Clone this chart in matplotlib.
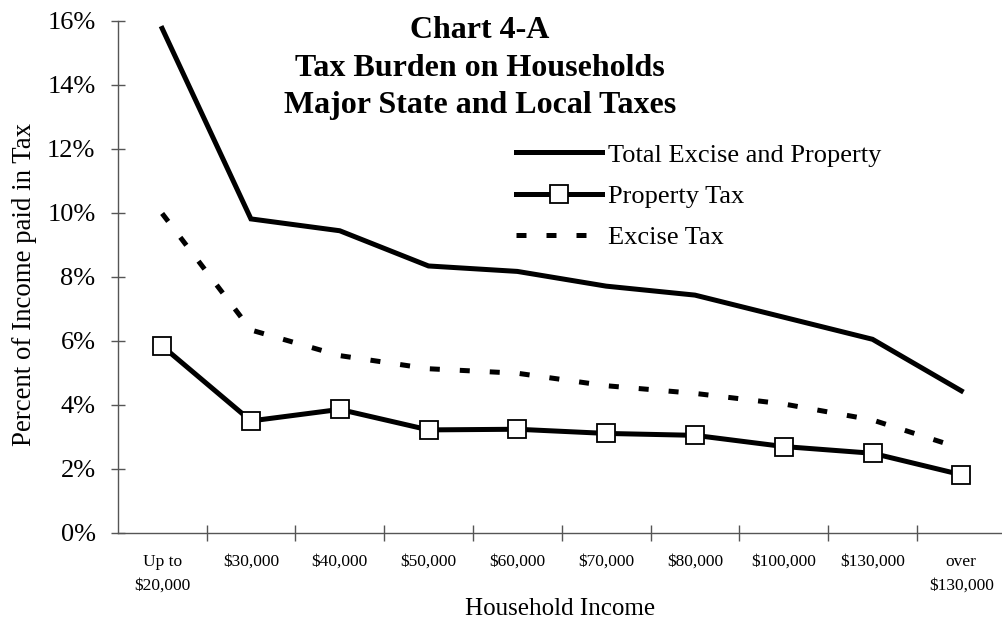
import matplotlib.pyplot as plt
import numpy as np

plt.rcParams['font.family'] = ['Liberation Serif', 'DejaVu Serif']

# income brackets and tax shares (% of income)
brackets = ['Up to\n$20,000', '$30,000', '$40,000', '$50,000', '$60,000',
            '$70,000', '$80,000', '$100,000', '$130,000', 'over\n$130,000']
total = [15.76, 9.81, 9.44, 8.34, 8.17, 7.71, 7.43, 6.74, 6.05, 4.44]
property_tax = [5.84, 3.50, 3.86, 3.22, 3.24, 3.11, 3.05, 2.70, 2.49, 1.82]
excise = [9.98, 6.34, 5.54, 5.13, 4.99, 4.60, 4.36, 4.03, 3.53, 2.64]
yticks = [0, 2, 4, 6, 8, 10, 12, 14, 16]

fig = plt.figure(figsize=(10.02, 6.22), dpi=100)
ax = fig.add_axes([0.1175, 0.1431, 0.8862, 0.8236])

x = np.arange(len(brackets))
ax.plot(x, total, color='black', lw=3.6, label='Total Excise and Property',
        solid_joinstyle='miter')
ax.plot(x, property_tax, color='black', lw=3.6, marker='s', markersize=13.5,
        markerfacecolor='white', markeredgecolor='black', markeredgewidth=1.3,
        label='Property Tax', solid_joinstyle='miter')
ax.plot(x, excise, color='black', lw=3.6, linestyle=(0, (2, 4)),
        label='Excise Tax')

ax.set_xlim(-0.5, 9.5)
ax.set_ylim(0, 16)

for s in ['top', 'right']:
    ax.spines[s].set_visible(False)
for s in ['left', 'bottom']:
    ax.spines[s].set_color('#555555')
    ax.spines[s].set_linewidth(1.0)

ax.set_yticks(yticks)
ax.set_yticklabels(['%d%%' % v for v in yticks], fontsize=19)
ax.tick_params(axis='y', direction='inout', length=10, width=1,
               color='#555555', pad=11)

# labels centred on categories, tick marks between them
ax.set_xticks(x)
ax.set_xticklabels(brackets, fontsize=12.5, linespacing=1.65)
ax.tick_params(axis='x', which='major', length=0, pad=15)
ax.set_xticks(np.arange(0.5, 9.5, 1), minor=True)
ax.tick_params(axis='x', which='minor', direction='inout', length=11,
               width=1, color='#555555')

fig.text(0.024, 0.542, 'Percent of Income paid in Tax', fontsize=19.4,
         rotation=90, ha='center', va='center')
fig.text(0.559, 0.021, 'Household Income', fontsize=18, ha='center', va='center')

fig.text(0.479, 0.974, 'Chart 4-A\nTax Burden on Households\nMajor State and Local Taxes',
         fontsize=23, fontweight='bold', ha='center', va='top', linespacing=1.38)

ax.legend(loc='upper left', bbox_to_anchor=(0.515, 0.770),
          bbox_transform=fig.transFigure, frameon=False, fontsize=19,
          handlelength=3.25, handletextpad=0.25, labelspacing=0.68,
          borderpad=0, borderaxespad=0)

fig.savefig('out.png', dpi=100)
